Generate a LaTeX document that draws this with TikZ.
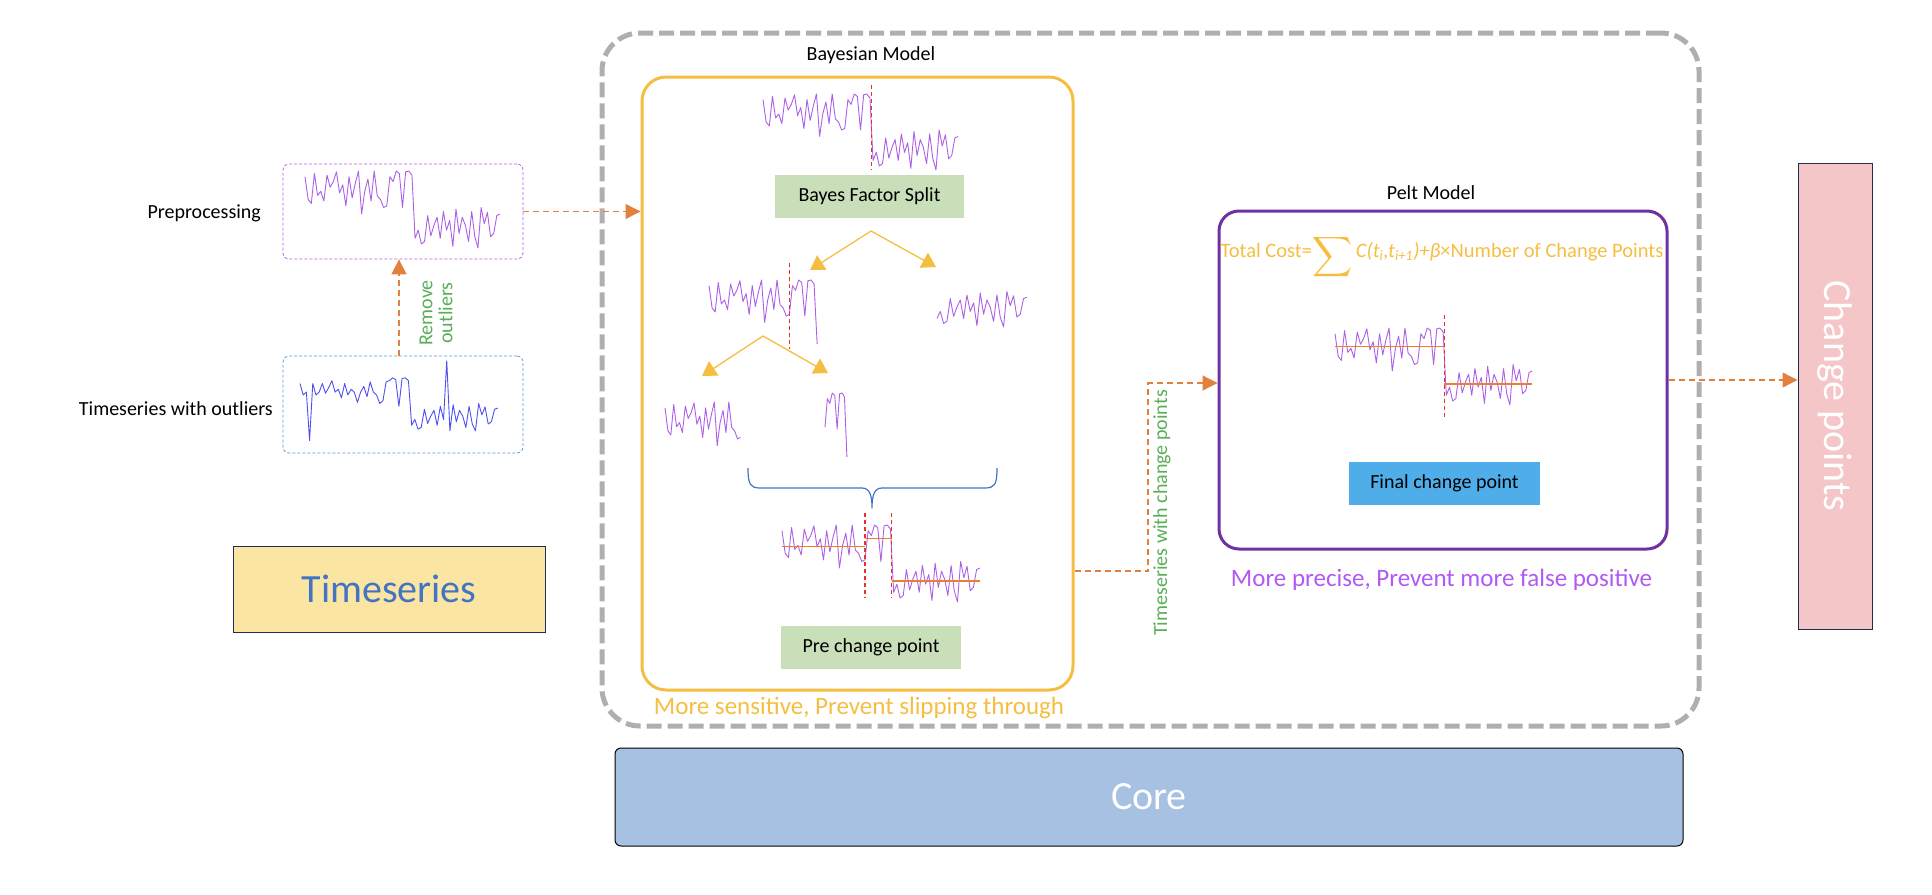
\documentclass[tikz,border=0pt]{standalone}
\usepackage{amsmath}
\usepackage{fontspec}
\setmainfont{Carlito}
\usetikzlibrary{arrows.meta}
\definecolor{grayframe}{HTML}{AFAFAF}
\definecolor{bayesyellow}{HTML}{F5BE41}
\definecolor{peltpurple}{HTML}{7030A0}
\definecolor{textpurple}{HTML}{B258F4}
\definecolor{arroworange}{HTML}{E2803F}
\definecolor{serpurple}{HTML}{AD5FE6}
\definecolor{serblue}{HTML}{4F4FEF}
\definecolor{redcp}{HTML}{E8302C}
\definecolor{meanorange}{HTML}{ED7D31}
\definecolor{greenbox}{HTML}{C9DFB9}
\definecolor{bluebox}{HTML}{4FADEA}
\definecolor{tsfill}{HTML}{FAE5A2}
\definecolor{tsborder}{HTML}{1F2D50}
\definecolor{tstext}{HTML}{4472C4}
\definecolor{corefill}{HTML}{A6C1E1}
\definecolor{cpfill}{HTML}{F5C6C7}
\definecolor{greentext}{HTML}{5AAE57}
\definecolor{prepborder}{HTML}{B15EF2}
\definecolor{outborder}{HTML}{5B9BD5}
% series pieces: high part (0..26), bump part (26..34), low part (35..62)
\def\sA{(0,.12)--(1,.40)--(2,.45)--(3,.08)--(4,.35)--(5,.30)--(6,.42)--(7,.10)--(8,.25)--(9,.18)--(10,.06)--(11,.32)--(12,.22)--(13,.48)--(14,.12)--(15,.38)--(16,.20)--(17,.05)--(18,.58)--(19,.30)--(20,.15)--(21,.42)--(22,.05)--(23,.36)--(24,.40)--(25,.50)--(26,.48)}
\def\sB{(26,.48)--(27,.12)--(28,.18)--(29,.05)--(30,.08)--(31,.50)--(32,.06)--(33,.05)--(34,.10)}
\def\sC{(35,.88)--(36,.78)--(37,.95)--(38,.92)--(39,.60)--(40,.85)--(41,.72)--(42,.62)--(43,.88)--(44,.55)--(45,.78)--(46,.66)--(47,.98)--(48,.52)--(49,.82)--(50,.62)--(51,.72)--(52,.92)--(53,.55)--(54,.86)--(55,1.00)--(56,.50)--(57,.70)--(58,.56)--(59,.86)--(60,.82)--(61,.60)--(62,.58)}
% outlier version
\def\sO{(0,.15)--(1,.35)--(2,.30)--(3,1.15)--(4,.15)--(5,.35)--(6,.30)--(7,.15)--(8,.32)--(9,.22)--(10,.10)--(11,.30)--(12,.25)--(13,.40)--(14,.15)--(15,.35)--(16,.25)--(17,.30)--(18,.48)--(19,.30)--(20,.20)--(21,.38)--(22,.12)--(23,.30)--(24,.35)--(25,.50)--(26,.45)--(27,.12)--(28,.10)--(29,.05)--(30,.08)--(31,.55)--(32,.06)--(33,.05)--(34,.10)--(35,.88)--(36,.78)--(37,.95)--(38,.92)--(39,.60)--(40,.85)--(41,.72)--(42,.62)--(43,.88)--(44,.55)--(45,.78)--(46,-.25)--(47,.98)--(48,.52)--(49,.82)--(50,.62)--(51,.72)--(52,.92)--(53,.55)--(54,.86)--(55,.98)--(56,.50)--(57,.70)--(58,.56)--(59,.86)--(60,.82)--(61,.60)--(62,.58)}
\begin{document}
\begin{tikzpicture}[x=1pt,y=-1pt,
  fs/.style={font=\fontsize{#1}{#1}\selectfont},
  lbl/.style={fs=20, text=black, inner sep=0pt},
  series/.style={draw=serpurple, line width=0.9pt, line join=round},
  oseries/.style={draw=serblue, line width=0.9pt, line join=round},
  redline/.style={draw=redcp, line width=1.1pt, dash pattern=on 4pt off 3pt},
  meanline/.style={draw=meanorange, line width=1.2pt},
  orarrow/.style={draw=arroworange, line width=1.2pt, dash pattern=on 6pt off 4pt,
     -{Triangle[length=15pt,width=15pt,fill=arroworange]}},
  splitarrow/.style={draw=bayesyellow, line width=1.3pt,
     -{Triangle[length=14pt,width=17pt,fill=bayesyellow]}},
  fillbox/.style={inner sep=0pt, minimum height=43pt, fs=20},
]
\useasboundingbox (0,0) rectangle (1932,894);

% outer frame
\node[draw=grayframe, line width=5pt, dash pattern=on 15pt off 6pt, rounded corners=38pt,
  minimum width=1097pt, minimum height=693pt, inner sep=0pt] (frame) at (1150.5,379.5) {};

% Bayesian model
\node[lbl] (bayeslabel) at (871,55) {Bayesian Model};
\node[draw=bayesyellow, line width=3pt, rounded corners=24pt, minimum width=431pt,
  minimum height=613pt, inner sep=0pt] (bayes) at (857.5,383.5) {};
\node[fillbox, fill=greenbox, minimum width=189pt] (bfs) at (869.5,196.5) {Bayes Factor Split};
\node[fillbox, fill=greenbox, minimum width=180pt] (pcp) at (871,647.5) {Pre change point};
\node[fs=25, text=bayesyellow, inner sep=0pt] (sensitive) at (859,708) {More sensitive, Prevent slipping through};

% Pelt model
\node[lbl] (peltlabel) at (1431,193) {Pelt Model};
\node[draw=peltpurple, line width=3pt, rounded corners=20pt, minimum width=448pt,
  minimum height=338pt, inner sep=0pt] (pelt) at (1443,380) {};
\node[fs=20.5, text=bayesyellow, inner sep=0pt] (formula) at (1442,257)
  {Total Cost=\raisebox{-0.34em}{\scalebox{1.35}{$\displaystyle\sum$}}\,\textit{C(t\textsubscript{i},t\textsubscript{i+1})+β}×Number of Change Points};
\node[fillbox, fill=bluebox, minimum width=191pt] (final) at (1444.5,483.5) {Final change point};
\node[fs=25, text=textpurple, inner sep=0pt] (precise) at (1441.5,580) {More precise, Prevent more false positive};

% left side
\node[draw=prepborder, line width=0.8pt, dash pattern=on 3pt off 2pt, rounded corners=6pt,
  minimum width=240pt, minimum height=95pt, inner sep=0pt] (prep) at (403,211.5) {};
\node[draw=outborder, line width=0.8pt, dash pattern=on 3pt off 2pt, rounded corners=6pt,
  minimum width=240pt, minimum height=97pt, inner sep=0pt] (outl) at (403,404.5) {};
\node[lbl, anchor=east] (preplabel) at (261,213) {Preprocessing};
\node[lbl, anchor=east] (outllabel) at (273,409) {Timeseries with outliers};
\node[draw=tsborder, line width=1pt, fill=tsfill, minimum width=312pt, minimum height=86pt,
  inner sep=0pt, fs=40, text=tstext] (ts) at (389,589) {Timeseries};

% bottom and right
\node[draw=black, line width=1pt, fill=corefill, rounded corners=6pt, minimum width=1068pt,
  minimum height=98pt, inner sep=0pt, fs=40, text=white] (core) at (1149,797) {Core};
\node[draw=tsborder, line width=1pt, fill=cpfill, rotate=-90, minimum width=466pt,
  minimum height=74pt, inner sep=0pt, fs=40, text=white] (cp) at (1835,396) {Change points};

% connectors
\draw[orarrow] ([xshift=-4pt]outl.north) -- ([xshift=-4pt]prep.south);
\node[fs=20, text=greentext, rotate=90, align=center, inner sep=0pt] (remove) at (436,313) {Remove\\outliers};
\draw[orarrow] (prep.east) -- (prep.east -| bayes.west);
\coordinate (bend) at (1148,571);
\draw[orarrow] (bayes.east |- bend) -- (bend) |- ([yshift=-3pt]pelt.west);
\node[fs=20, text=greentext, rotate=90, inner sep=0pt] (tscp) at (1162,513) {Timeseries with change points};
\draw[orarrow] (pelt.east) -- (pelt.east -| cp.south);

% split arrows
\coordinate (apexA) at (871,231);
\coordinate (leftA) at (810,270);
\coordinate (rightA) at (936,267);
\coordinate (apexB) at (763,336);
\coordinate (leftB) at (702,376);
\coordinate (rightB) at (828,373);
\draw[splitarrow] (apexA) -- (leftA);
\draw[splitarrow] (apexA) -- (rightA);
\draw[splitarrow] (apexB) -- (leftB);
\draw[splitarrow] (apexB) -- (rightB);

% brace
\coordinate (braceL) at (748,468);
\coordinate (braceR) at (997,468);
\coordinate (braceTip) at (872,508);
\draw[draw=tstext, line width=1.2pt, line join=round]
  (braceL) .. controls (748,484) and (750,488) .. (760,488) -- (862,488)
  .. controls (869,488) and (872,494) .. (braceTip)
  .. controls (872,494) and (875,488) .. (882,488) -- (985,488)
  .. controls (995,488) and (997,484) .. (braceR);

% ---- time series drawings ----
% preprocessing
\begin{scope}[xshift=305pt, yshift=-167pt, x=3.145pt, y=-81pt]
  \draw[series] \sA -- \sB -- \sC;
\end{scope}
% outliers
\begin{scope}[xshift=300pt, yshift=-375pt, x=3.19pt, y=-57pt]
  \draw[oseries] \sO;
\end{scope}
% bayes top
\begin{scope}[xshift=763pt, yshift=-90pt, x=3.145pt, y=-80pt]
  \draw[series] \sA -- \sB -- \sC;
  \draw[redline] (34.4,-0.06) -- (34.4,1.0);
\end{scope}
% mid left
\begin{scope}[xshift=709pt, yshift=-276pt, x=3.09pt, y=-80pt]
  \draw[series] \sA -- \sB -- (35,.85);
  \draw[redline] (26,-0.16) -- (26,0.91);
\end{scope}
% mid right
\begin{scope}[xshift=820.4pt, yshift=-256pt, x=3.33pt, y=-71pt]
  \draw[series] \sC;
\end{scope}
% bottom left
\begin{scope}[xshift=665pt, yshift=-398pt, x=2.9pt, y=-82pt]
  \draw[series] \sA;
\end{scope}
% bottom mid
\begin{scope}[xshift=761.5pt, yshift=-389pt, x=2.44pt, y=-80pt]
  \draw[series] \sB -- (35,.85);
\end{scope}
% pre change point chart
\begin{scope}[xshift=782pt, yshift=-521pt, x=3.19pt, y=-81pt]
  \draw[series] \sA -- \sB -- \sC;
  \draw[meanline] (0,.31) -- (26,.31);
  \draw[meanline] (26,.22) -- (34.4,.22);
  \draw[meanline] (34.4,.74) -- (62,.74);
  \draw[redline] (26,-0.1) -- (26,0.95);
  \draw[redline] (34.4,-0.1) -- (34.4,0.95);
\end{scope}
% pelt chart
\begin{scope}[xshift=1335pt, yshift=-324pt, x=3.18pt, y=-81pt]
  \draw[series] \sA -- \sB -- \sC;
  \draw[meanline] (0,.28) -- (34.4,.28);
  \draw[meanline] (34.4,.74) -- (62,.74);
  \draw[redline] (34.4,-0.11) -- (34.4,1.16);
\end{scope}
\end{tikzpicture}
\end{document}
